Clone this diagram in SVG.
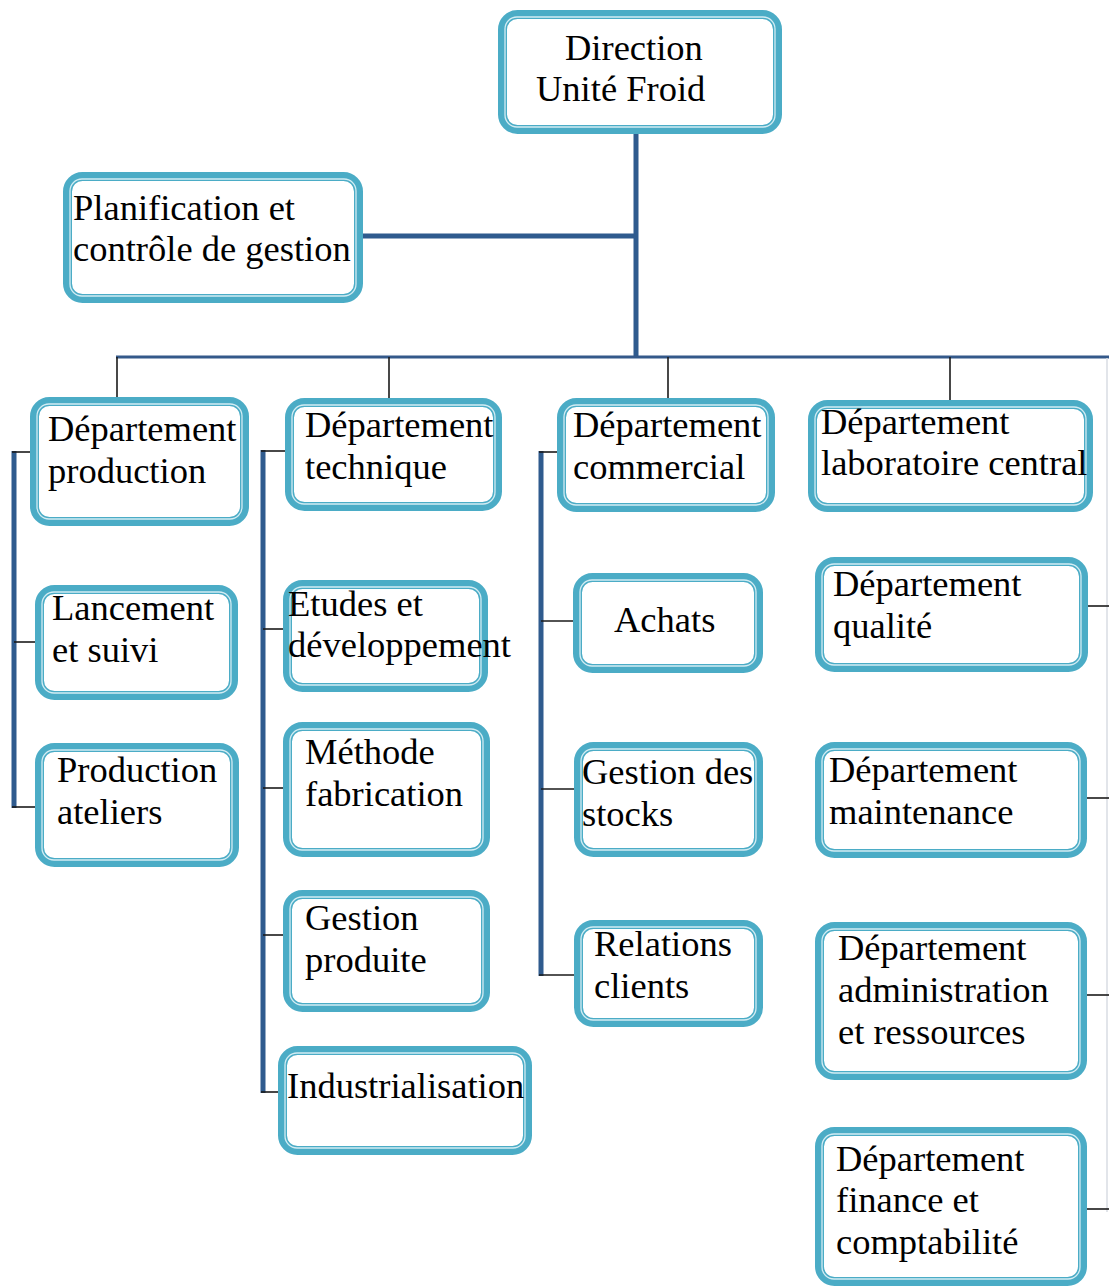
<svg xmlns="http://www.w3.org/2000/svg" width="1109" height="1286" viewBox="0 0 1109 1286">
<style>
.b{fill:#fff;stroke:#4bacc6;stroke-width:9}
.l{fill:none;stroke:#d2ecf3;stroke-width:1.3}
.t{font-family:'Liberation Serif','DejaVu Serif',serif;font-size:36.5px;fill:#000}
.thick{stroke:#2f5b8e;stroke-width:5;fill:none}
.bus{stroke:#34598a;stroke-width:3;fill:none}
.thin{stroke:#1a1a1a;stroke-width:1.6;fill:none}
.faint{stroke:#d8dde3;stroke-width:1.5;fill:none}
</style>
<rect width="1109" height="1286" fill="#fff"/>
<g id="connectors">
<line class="thick" x1="636" y1="130" x2="636" y2="357"/>
<line class="thick" x1="360" y1="236" x2="636" y2="236"/>
<line class="bus" x1="116" y1="357" x2="1109" y2="357"/>
<line class="faint" x1="1107" y1="358" x2="1107" y2="1212"/>
<line class="thin" x1="117" y1="357" x2="117" y2="399"/>
<line class="thin" x1="389" y1="357" x2="389" y2="400"/>
<line class="thin" x1="668" y1="357" x2="668" y2="400"/>
<line class="thin" x1="950" y1="357" x2="950" y2="402"/>
<line class="thick" x1="14" y1="451" x2="14" y2="808"/>
<line class="thin" x1="12" y1="452" x2="32" y2="452"/>
<line class="thin" x1="14" y1="642" x2="37" y2="642"/>
<line class="thin" x1="12" y1="807" x2="37" y2="807"/>
<line class="thick" x1="263" y1="450" x2="263" y2="1093"/>
<line class="thin" x1="261" y1="451" x2="287" y2="451"/>
<line class="thin" x1="263" y1="629" x2="285" y2="629"/>
<line class="thin" x1="263" y1="788" x2="285" y2="788"/>
<line class="thin" x1="263" y1="935" x2="285" y2="935"/>
<line class="thin" x1="261" y1="1092" x2="280" y2="1092"/>
<line class="thick" x1="541" y1="451" x2="541" y2="976"/>
<line class="thin" x1="539" y1="452" x2="559" y2="452"/>
<line class="thin" x1="541" y1="621" x2="575" y2="621"/>
<line class="thin" x1="541" y1="789" x2="576" y2="789"/>
<line class="thin" x1="539" y1="975" x2="576" y2="975"/>
<line class="thin" x1="1086" y1="606" x2="1109" y2="606"/>
<line class="thin" x1="1085" y1="798" x2="1109" y2="798"/>
<line class="thin" x1="1085" y1="995" x2="1109" y2="995"/>
<line class="thin" x1="1085" y1="1209" x2="1109" y2="1209"/>
</g>
<g id="direction"><rect class="b" x="502.5" y="14.5" width="275" height="115" rx="15"/><rect class="l" x="505" y="17" width="270" height="110" rx="12"/>
<text class="t" x="565" y="60">Direction</text><text class="t" x="536" y="101">Unité Froid</text></g>
<g id="planification"><rect class="b" x="67.5" y="176.5" width="291" height="122" rx="15"/><rect class="l" x="70" y="179" width="286" height="117" rx="12"/>
<text class="t" x="73" y="220">Planification et</text><text class="t" x="73" y="261">contrôle de gestion</text></g>
<g id="dep-production"><rect class="b" x="34.5" y="401.5" width="210" height="120" rx="15"/><rect class="l" x="37" y="404" width="205" height="115" rx="12"/>
<text class="t" x="48" y="441">Département</text><text class="t" x="48" y="483">production</text></g>
<g id="dep-technique"><rect class="b" x="289.5" y="402.5" width="208" height="104" rx="15"/><rect class="l" x="292" y="405" width="203" height="99" rx="12"/>
<text class="t" x="305" y="437">Département</text><text class="t" x="305" y="479">technique</text></g>
<g id="dep-commercial"><rect class="b" x="561.5" y="402.5" width="209" height="105" rx="15"/><rect class="l" x="564" y="405" width="204" height="100" rx="12"/>
<text class="t" x="573" y="437">Département</text><text class="t" x="573" y="479">commercial</text></g>
<g id="dep-laboratoire"><rect class="b" x="812.5" y="404.5" width="276" height="103" rx="15"/><rect class="l" x="815" y="407" width="271" height="98" rx="12"/>
<text class="t" x="821" y="434">Département</text><text class="t" x="821" y="475">laboratoire central</text></g>
<g id="lancement"><rect class="b" x="39.5" y="589.5" width="194" height="106" rx="15"/><rect class="l" x="42" y="592" width="189" height="101" rx="12"/>
<text class="t" x="52" y="620">Lancement</text><text class="t" x="52" y="662">et suivi</text></g>
<g id="production-ateliers"><rect class="b" x="39.5" y="747.5" width="195" height="115" rx="15"/><rect class="l" x="42" y="750" width="190" height="110" rx="12"/>
<text class="t" x="57" y="782">Production</text><text class="t" x="57" y="824">ateliers</text></g>
<g id="etudes"><rect class="b" x="287.5" y="584.5" width="196" height="103" rx="15"/><rect class="l" x="290" y="587" width="191" height="98" rx="12"/>
<text class="t" x="288" y="616">Etudes et</text><text class="t" x="288" y="657">développement</text></g>
<g id="methode"><rect class="b" x="287.5" y="726.5" width="198" height="126" rx="15"/><rect class="l" x="290" y="729" width="193" height="121" rx="12"/>
<text class="t" x="305" y="764">Méthode</text><text class="t" x="305" y="806">fabrication</text></g>
<g id="gestion-produite"><rect class="b" x="287.5" y="894.5" width="198" height="113" rx="15"/><rect class="l" x="290" y="897" width="193" height="108" rx="12"/>
<text class="t" x="305" y="930">Gestion</text><text class="t" x="305" y="972">produite</text></g>
<g id="industrialisation"><rect class="b" x="282.5" y="1050.5" width="245" height="100" rx="15"/><rect class="l" x="285" y="1053" width="240" height="95" rx="12"/>
<text class="t" x="287" y="1098">Industrialisation</text></g>
<g id="achats"><rect class="b" x="577.5" y="577.5" width="181" height="91" rx="15"/><rect class="l" x="580" y="580" width="176" height="86" rx="12"/>
<text class="t" x="614" y="632">Achats</text></g>
<g id="gestion-stocks"><rect class="b" x="578.5" y="746.5" width="180" height="106" rx="15"/><rect class="l" x="581" y="749" width="175" height="101" rx="12"/>
<text class="t" x="582" y="784">Gestion des</text><text class="t" x="582" y="826">stocks</text></g>
<g id="relations-clients"><rect class="b" x="578.5" y="924.5" width="180" height="98" rx="15"/><rect class="l" x="581" y="927" width="175" height="93" rx="12"/>
<text class="t" x="594" y="956">Relations</text><text class="t" x="594" y="998">clients</text></g>
<g id="dep-qualite"><rect class="b" x="819.5" y="561.5" width="264" height="106" rx="15"/><rect class="l" x="822" y="564" width="259" height="101" rx="12"/>
<text class="t" x="833" y="596">Département</text><text class="t" x="833" y="638">qualité</text></g>
<g id="dep-maintenance"><rect class="b" x="819.5" y="746.5" width="263" height="107" rx="15"/><rect class="l" x="822" y="749" width="258" height="102" rx="12"/>
<text class="t" x="829" y="782">Département</text><text class="t" x="829" y="824">maintenance</text></g>
<g id="dep-administration"><rect class="b" x="819.5" y="926.5" width="263" height="149" rx="15"/><rect class="l" x="822" y="929" width="258" height="144" rx="12"/>
<text class="t" x="838" y="960">Département</text><text class="t" x="838" y="1002">administration</text><text class="t" x="838" y="1044">et ressources</text></g>
<g id="dep-finance"><rect class="b" x="819.5" y="1131.5" width="263" height="150" rx="15"/><rect class="l" x="822" y="1134" width="258" height="145" rx="12"/>
<text class="t" x="836" y="1171">Département</text><text class="t" x="836" y="1212">finance et</text><text class="t" x="836" y="1254">comptabilité</text></g>
</svg>
